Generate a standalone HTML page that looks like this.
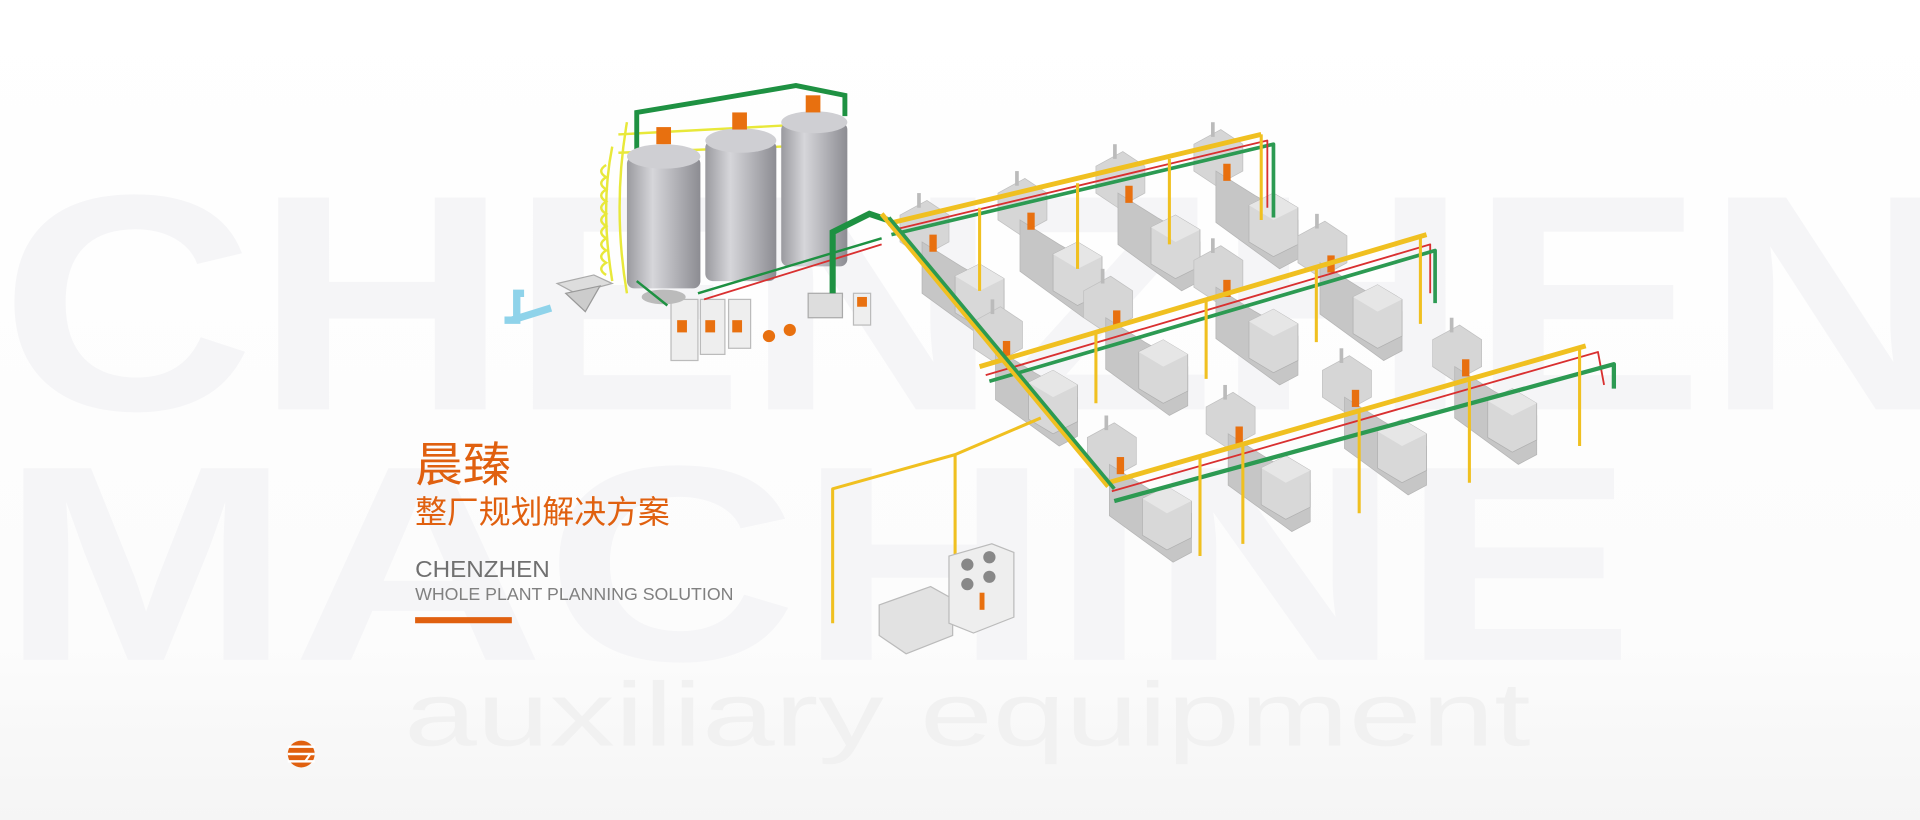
<!DOCTYPE html>
<html><head><meta charset="utf-8"><style>
html,body{margin:0;padding:0;width:1920px;height:820px;overflow:hidden;background:#fff}
svg{display:block}
</style></head><body>
<svg width="1920" height="820" viewBox="0 0 1568 671" preserveAspectRatio="none" xmlns="http://www.w3.org/2000/svg">
<defs>
<linearGradient id="bg" x1="0" y1="0" x2="0" y2="1">
<stop offset="0" stop-color="#ffffff"/><stop offset="0.78" stop-color="#fcfcfc"/><stop offset="1" stop-color="#f5f5f5"/>
</linearGradient>
<linearGradient id="silo" x1="0" y1="0" x2="1" y2="0">
<stop offset="0" stop-color="#9a9a9f"/><stop offset="0.35" stop-color="#d6d6da"/><stop offset="1" stop-color="#8c8c92"/>
</linearGradient>
<g id="mach">
<polygon points="0,18 22,6 40,18 40,40 18,52 0,40" fill="#d6d6d6" stroke="#c0c0c0" stroke-width="0.6"/>
<polygon points="18,40 50,60 85,80 85,112 70,120 18,82" fill="#c6c6c6" stroke="#b5b5b5" stroke-width="0.6"/>
<polygon points="45,68 65,58 85,70 85,100 65,110 45,98" fill="#d8d8d8" stroke="#b0b0b0" stroke-width="0.6"/>
<polygon points="45,68 65,58 85,70 65,80" fill="#e6e6e6"/>
<rect x="14" y="0" width="3" height="12" fill="#bbb"/>
<rect x="24" y="34" width="6" height="14" fill="#e8700f"/>
</g>
</defs>
<rect width="1568" height="671" fill="url(#bg)"/>
<g font-family="Liberation Sans, sans-serif" font-weight="bold" fill="#f5f5f7">
<text x="0" y="335" font-size="252" textLength="1600" lengthAdjust="spacingAndGlyphs">CHENZHEN</text>
<text x="0" y="540" font-size="228" textLength="1335" lengthAdjust="spacingAndGlyphs">MACHINE</text>
</g>
<text x="330" y="610" font-family="Liberation Sans, sans-serif" font-size="74" fill="#f1f1f1" textLength="920" lengthAdjust="spacingAndGlyphs">auxiliary equipment</text>

<!-- left equipment -->
<g>
<path d="M412 262 L422 262 L422 240 L428 240 M418 262 L450 252" stroke="#8fd3ea" stroke-width="6" fill="none"/>
<polygon points="455,232 485,225 500,232 470,240" fill="#ddd" stroke="#aaa"/>
<polygon points="462,240 490,234 478,255" fill="#ccc" stroke="#999"/>
<rect x="548" y="245" width="22" height="50" fill="#eee" stroke="#bbb"/>
<rect x="572" y="245" width="20" height="45" fill="#eee" stroke="#bbb"/>
<rect x="595" y="245" width="18" height="40" fill="#eee" stroke="#bbb"/>
<rect x="553" y="262" width="8" height="10" fill="#e8700f"/>
<rect x="576" y="262" width="8" height="10" fill="#e8700f"/>
<rect x="598" y="262" width="8" height="10" fill="#e8700f"/>
<circle cx="628" cy="275" r="5" fill="#e8700f"/><circle cx="645" cy="270" r="5" fill="#e8700f"/>
<rect x="660" y="240" width="28" height="20" fill="#ddd" stroke="#aaa"/>
<rect x="697" y="240" width="14" height="26" fill="#eee" stroke="#bbb"/>
<rect x="700" y="243" width="8" height="8" fill="#e8700f"/>
</g>
<!-- silos -->
<g fill="none" stroke="#e8e83a" stroke-width="2">
<path d="M500 120 Q490 170 500 230 M512 100 Q500 170 512 240"/>
<path d="M505 110 L690 100 M505 125 L690 118"/>
<path d="M495 135 q-8 5 0 10 q-8 5 0 10 q-8 5 0 10 q-8 5 0 10 q-8 5 0 10 q-8 5 0 10 q-8 5 0 10 q-8 5 0 10 q-8 5 0 10"/>
</g>
<path d="M520 230 L520 92 L580 82 L650 70 L690 78 L690 95" stroke="#1e9142" stroke-width="4" fill="none"/>
<g>
<rect x="512" y="128" width="60" height="108" rx="6" fill="url(#silo)"/>
<ellipse cx="542" cy="128" rx="30" ry="10" fill="#cfcfd3"/>
<rect x="576" y="115" width="58" height="115" rx="6" fill="url(#silo)"/>
<ellipse cx="605" cy="115" rx="29" ry="10" fill="#cfcfd3"/>
<rect x="638" y="100" width="54" height="118" rx="6" fill="url(#silo)"/>
<ellipse cx="665" cy="100" rx="27" ry="9" fill="#cfcfd3"/>
<rect x="536" y="104" width="12" height="14" fill="#e8700f"/><rect x="598" y="92" width="12" height="14" fill="#e8700f"/><rect x="658" y="78" width="12" height="14" fill="#e8700f"/>
<ellipse cx="542" cy="243" rx="18" ry="6" fill="#bbb"/>
</g>
<path d="M520 230 L545 250 M570 240 L720 195" stroke="#1e9142" stroke-width="2" fill="none"/>
<path d="M575 245 L720 200" stroke="#d93030" stroke-width="1.5"/>
<path d="M680 240 L680 190 L710 175 L725 180" stroke="#1e9142" stroke-width="5" fill="none"/>

<!-- machines -->
<g>
<use href="#mach" x="735" y="158"/><use href="#mach" x="815" y="140"/><use href="#mach" x="895" y="118"/><use href="#mach" x="975" y="100"/>
<use href="#mach" x="795" y="245"/><use href="#mach" x="885" y="220"/><use href="#mach" x="975" y="195"/><use href="#mach" x="1060" y="175"/>
<use href="#mach" x="888" y="340"/><use href="#mach" x="985" y="315"/><use href="#mach" x="1080" y="285"/><use href="#mach" x="1170" y="260"/>
</g>
<!-- pipes -->
<g fill="none" stroke-linejoin="round">
<path d="M725 183 L1030 110" stroke="#f0c020" stroke-width="4"/>
<path d="M728 192 L1040 118 L1040 178" stroke="#2c9a52" stroke-width="3"/>
<path d="M730 188 L1035 115 L1035 170" stroke="#d93030" stroke-width="1.5"/>
<path d="M1030 110 L1030 180 M955 130 L955 200 M880 150 L880 220 M800 170 L800 238" stroke="#f0c020" stroke-width="2.5"/>
<path d="M800 300 L1165 192" stroke="#f0c020" stroke-width="4"/>
<path d="M805 307 L1168 200 L1168 240" stroke="#d93030" stroke-width="1.5"/>
<path d="M808 312 L1172 205 L1172 248" stroke="#2c9a52" stroke-width="3"/>
<path d="M1160 192 L1160 265 M1075 218 L1075 280 M985 245 L985 310 M895 272 L895 330" stroke="#f0c020" stroke-width="2.5"/>
<path d="M905 395 L1295 283" stroke="#f0c020" stroke-width="4"/>
<path d="M908 402 L1305 288 L1310 315" stroke="#d93030" stroke-width="1.5"/>
<path d="M910 410 L1318 298 L1318 318" stroke="#2c9a52" stroke-width="3.5"/>
<path d="M1290 283 L1290 365 M1200 310 L1200 395 M1110 335 L1110 420 M1015 362 L1015 445 M980 372 L980 455" stroke="#f0c020" stroke-width="2.5"/>
<path d="M720 175 L905 398" stroke="#f0c020" stroke-width="4"/>
<path d="M726 178 L910 400" stroke="#2c9a52" stroke-width="3"/>
<path d="M850 342 L780 372 L680 400 L680 510 M780 372 L780 470" stroke="#f0c020" stroke-width="2.5"/>
</g>
<!-- lower-left units -->
<polygon points="718,495 760,480 778,490 778,520 740,535 718,520" fill="#e2e2e2" stroke="#bbb"/>
<polygon points="775,455 810,445 828,452 828,505 795,518 775,510" fill="#eeeeee" stroke="#bbb"/>
<g fill="#888"><circle cx="790" cy="462" r="5"/><circle cx="808" cy="456" r="5"/><circle cx="790" cy="478" r="5"/><circle cx="808" cy="472" r="5"/></g>
<rect x="800" y="485" width="4" height="14" fill="#e8700f"/>

<!-- text -->
<g font-family="Liberation Sans, Noto Sans CJK SC, sans-serif">
<text x="339" y="394" font-size="39" fill="#e0600f">晨臻</text>
<text x="339" y="428" font-size="26" fill="#e0600f">整厂规划解决方案</text>
<text x="339" y="472" font-size="19" fill="#707070" textLength="110" lengthAdjust="spacingAndGlyphs">CHENZHEN</text>
<text x="339" y="491" font-size="14" fill="#808080" textLength="260" lengthAdjust="spacingAndGlyphs">WHOLE PLANT PLANNING SOLUTION</text>
</g>
<rect x="339" y="505" width="79" height="5" fill="#e0600f"/>
<!-- logo -->
<g>
<circle cx="246" cy="617" r="11" fill="#e0600f"/>
<rect x="235" y="610" width="22" height="2" fill="#fff"/><rect x="235" y="616" width="22" height="2" fill="#fff"/><rect x="235" y="622" width="22" height="2" fill="#fff"/>
<text x="248" y="624" font-family="Liberation Sans, sans-serif" font-weight="bold" font-size="14" fill="#fff">z</text>
</g>
</svg>
</body></html>
